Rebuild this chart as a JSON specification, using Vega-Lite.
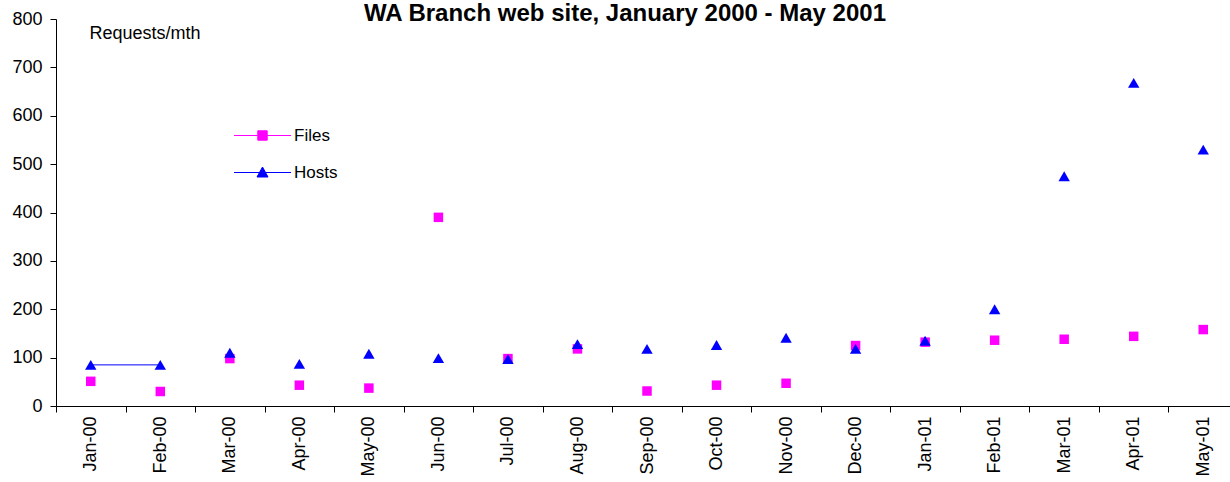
{
  "$schema": "https://vega.github.io/schema/vega-lite/v6.json",
  "width": 1174,
  "height": 387,
  "autosize": {"type": "none"},
  "padding": {"left": 56, "top": 19, "right": 0, "bottom": 76},
  "background": "white",
  "config": {
    "view": {"stroke": null},
    "font": "Liberation Sans",
    "legend": {
      "orient": "none",
      "title": null,
      "padding": 0,
      "symbolSize": 400,
      "labelOffset": 21,
      "labelFontSize": 17,
      "labelFont": "Liberation Sans",
      "labelColor": "black",
      "symbolStrokeWidth": 1,
      "symbolOpacity": 1
    }
  },
  "title": {
    "text": "WA Branch web site, January 2000 - May 2001",
    "font": "Liberation Sans",
    "fontSize": 24,
    "fontWeight": "bold",
    "color": "black",
    "anchor": "middle",
    "frame": "group",
    "dx": -18,
    "baseline": "alphabetic",
    "offset": 0,
    "dy": 35
  },
  "data": {
    "values": [
      {"month": "Jan-00", "series": "Files", "value": 51},
      {"month": "Feb-00", "series": "Files", "value": 30},
      {"month": "Mar-00", "series": "Files", "value": 98},
      {"month": "Apr-00", "series": "Files", "value": 43},
      {"month": "May-00", "series": "Files", "value": 37},
      {"month": "Jun-00", "series": "Files", "value": 390},
      {"month": "Jul-00", "series": "Files", "value": 98},
      {"month": "Aug-00", "series": "Files", "value": 118},
      {"month": "Sep-00", "series": "Files", "value": 31},
      {"month": "Oct-00", "series": "Files", "value": 43},
      {"month": "Nov-00", "series": "Files", "value": 47},
      {"month": "Dec-00", "series": "Files", "value": 125},
      {"month": "Jan-01", "series": "Files", "value": 132},
      {"month": "Feb-01", "series": "Files", "value": 136},
      {"month": "Mar-01", "series": "Files", "value": 138},
      {"month": "Apr-01", "series": "Files", "value": 144},
      {"month": "May-01", "series": "Files", "value": 158},
      {"month": "Jan-00", "series": "Hosts", "value": 85},
      {"month": "Feb-00", "series": "Hosts", "value": 85},
      {"month": "Mar-00", "series": "Hosts", "value": 110},
      {"month": "Apr-00", "series": "Hosts", "value": 87},
      {"month": "May-00", "series": "Hosts", "value": 108},
      {"month": "Jun-00", "series": "Hosts", "value": 99},
      {"month": "Jul-00", "series": "Hosts", "value": 97},
      {"month": "Aug-00", "series": "Hosts", "value": 128},
      {"month": "Sep-00", "series": "Hosts", "value": 118},
      {"month": "Oct-00", "series": "Hosts", "value": 126},
      {"month": "Nov-00", "series": "Hosts", "value": 141},
      {"month": "Dec-00", "series": "Hosts", "value": 118},
      {"month": "Jan-01", "series": "Hosts", "value": 135},
      {"month": "Feb-01", "series": "Hosts", "value": 200},
      {"month": "Mar-01", "series": "Hosts", "value": 475},
      {"month": "Apr-01", "series": "Hosts", "value": 668},
      {"month": "May-01", "series": "Hosts", "value": 530}
    ]
  },
  "encoding": {
    "x": {
      "field": "month",
      "type": "nominal",
      "sort": ["Jan-00","Feb-00","Mar-00","Apr-00","May-00","Jun-00","Jul-00","Aug-00","Sep-00","Oct-00","Nov-00","Dec-00","Jan-01","Feb-01","Mar-01","Apr-01","May-01"],
      "scale": {"paddingInner": 0, "paddingOuter": 0, "range": [0, 1182]},
      "axis": {
        "title": null,
        "labelAngle": -90,
        "labelFontSize": 18,
        "labelFont": "Liberation Sans",
        "labelColor": "black",
        "labelPadding": 4,
        "tickSize": 6,
        "tickColor": "black",
        "domainColor": "black",
        "tickBand": "extent",
        "grid": false
      }
    },
    "y": {
      "field": "value",
      "type": "quantitative",
      "scale": {"domain": [0, 800], "nice": false},
      "axis": {
        "values": [0, 100, 200, 300, 400, 500, 600, 700, 800],
        "title": "Requests/mth",
        "titleAngle": 0,
        "titleAlign": "left",
        "titleBaseline": "alphabetic",
        "titleX": 33,
        "titleY": 19,
        "titleFontWeight": "normal",
        "titleFontSize": 18,
        "titleFont": "Liberation Sans",
        "titleColor": "black",
        "labelFontSize": 18,
        "labelFont": "Liberation Sans",
        "labelColor": "black",
        "labelPadding": 8,
        "tickSize": 6,
        "tickColor": "black",
        "domainColor": "black",
        "grid": false
      }
    }
  },
  "resolve": {"scale": {"color": "independent"}, "legend": {"color": "independent"}},
  "layer": [
    {
      "transform": [
        {"filter": {"field": "series", "equal": "Hosts"}},
        {"filter": {"field": "month", "oneOf": ["Jan-00", "Feb-00"]}}
      ],
      "mark": {"type": "line", "strokeWidth": 1, "color": "#0000FF"}
    },
    {
      "transform": [{"filter": {"field": "series", "equal": "Files"}}],
      "mark": {"type": "point", "filled": true, "shape": "square", "size": 90, "opacity": 1},
      "encoding": {
        "color": {
          "field": "series",
          "type": "nominal",
          "scale": {"domain": ["Files"], "range": ["#FF00FF"]},
          "legend": {
            "legendX": 196,
            "legendY": 106,
            "symbolType": "M-2.85,0H2.85M-0.47,-0.47H0.47V0.47H-0.47Z",
            "symbolStrokeColor": "#FF00FF"
          }
        }
      }
    },
    {
      "transform": [{"filter": {"field": "series", "equal": "Hosts"}}],
      "mark": {"type": "point", "filled": true, "shape": "triangle-up", "size": 130, "opacity": 1},
      "encoding": {
        "color": {
          "field": "series",
          "type": "nominal",
          "scale": {"domain": ["Hosts"], "range": ["#0000FF"]},
          "legend": {
            "legendX": 196,
            "legendY": 143,
            "symbolType": "M-2.85,0H2.85M0,-0.55L0.55,0.45L-0.55,0.45Z",
            "symbolStrokeColor": "#0000FF"
          }
        }
      }
    }
  ]
}
